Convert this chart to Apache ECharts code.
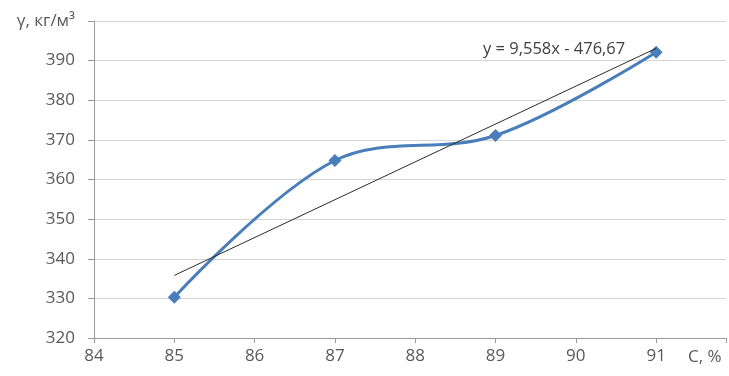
<!DOCTYPE html>
<html><head><meta charset="utf-8">
<script src="https://cdn.jsdelivr.net/npm/echarts@6/dist/echarts.min.js"></script>
<style>html,body{margin:0;padding:0;background:#fff}#c{width:729px;height:376px}</style>
</head><body><div id="c"></div>
<script>
var xValues = [85, 87, 89, 91];
var yValues = [330.3, 364.8, 371.1, 392.1];
var trendX = [85, 91];
var trendY = [335.8, 393.1];
var yTicks = [320, 330, 340, 350, 360, 370, 380, 390, 400];
var xTicks = [84, 85, 86, 87, 88, 89, 90, 91];
var yUnitLabel = 'γ, кг/м³';
var xUnitLabel = 'C, %';
var trendText = 'y = 9,558x - 476,67';

var chart = echarts.init(document.getElementById('c'));
var font = '"Open Sans", "DejaVu Sans", sans-serif';
chart.setOption({
  animation: false,
  grid: {left: 94, right: 0, top: 21, bottom: 38, containLabel: false},
  xAxis: {
    type: 'value', min: 84, max: 91.87, interval: 1,
    axisLine: {show: true, lineStyle: {color: '#9a9a9a', width: 1}},
    axisTick: {show: true, length: 5, lineStyle: {color: '#9a9a9a'}},
    splitLine: {show: false},
    axisLabel: {
      color: '#595959', fontFamily: font, fontSize: 17, margin: 10,
      formatter: function (v) { return (xTicks.indexOf(v) >= 0) ? String(v) : ''; }
    }
  },
  yAxis: {
    type: 'value', min: 320, max: 400, interval: 10,
    axisLine: {show: true, lineStyle: {color: '#9a9a9a', width: 1}},
    axisTick: {show: true, length: 6, lineStyle: {color: '#9a9a9a'}},
    splitLine: {show: true, lineStyle: {color: '#d4d4d4', width: 1}},
    axisLabel: {
      color: '#595959', fontFamily: font, fontSize: 17, margin: 19,
      formatter: function (v) { return v === 400 ? yUnitLabel : (yTicks.indexOf(v) >= 0 ? String(v) : ''); }
    }
  },
  graphic: [
    {type: 'text', left: 688, top: 349, style: {text: xUnitLabel, fill: '#595959', font: '17px ' + font}},
    {type: 'text', left: 483, top: 41, style: {text: trendText, fill: '#404040', font: '16.5px ' + font}}
  ],
  series: [
    {
      type: 'line',
      data: trendX.map(function (x, i) { return [x, trendY[i]]; }),
      symbol: 'none',
      lineStyle: {color: '#2b2b2b', width: 1},
      z: 3
    },
    {
      type: 'line',
      data: xValues.map(function (x, i) { return [x, yValues[i]]; }),
      smooth: 0.35,
      symbol: 'diamond',
      symbolSize: 13,
      lineStyle: {color: '#4a7ebb', width: 3},
      itemStyle: {color: '#4a7ebb'},
      z: 2
    }
  ]
});
</script>
</body></html>
